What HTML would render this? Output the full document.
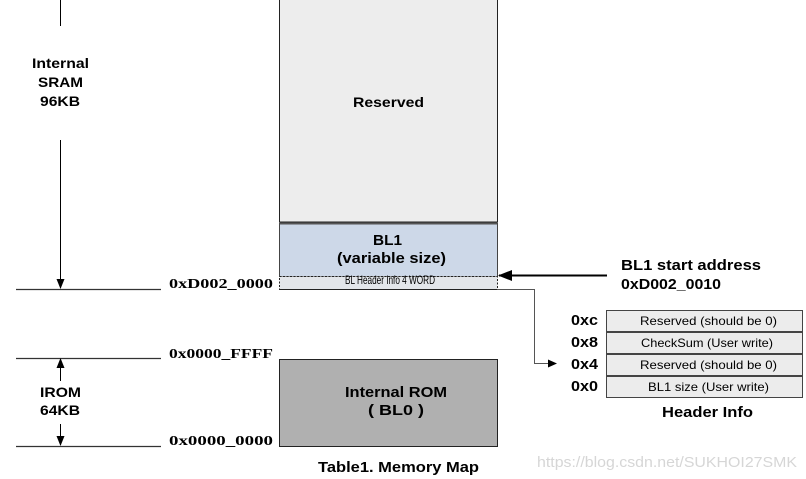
<!DOCTYPE html>
<html><head><meta charset="utf-8"><style>
html,body{margin:0;padding:0;background:#fff;}
svg{display:block;}
.s{font-family:"Liberation Sans",sans-serif;font-weight:bold;}
.m{font-family:"Liberation Serif",serif;font-weight:bold;font-size:14px;}
.n{font-family:"Liberation Sans",sans-serif;font-size:12px;}
</style></head><body>
<svg width="806" height="479" viewBox="0 0 806 479" xmlns="http://www.w3.org/2000/svg">
<defs>
<marker id="a" markerWidth="10" markerHeight="8" refX="9" refY="4" orient="auto" markerUnits="userSpaceOnUse"><path d="M0,0 L10,4 L0,8 z" fill="#000"/></marker>
</defs>
<line x1="16" y1="289.5" x2="161" y2="289.5" stroke="#333" stroke-width="1.2"/>
<line x1="16" y1="358.5" x2="161" y2="358.5" stroke="#333" stroke-width="1.2"/>
<line x1="16" y1="446.5" x2="161" y2="446.5" stroke="#333" stroke-width="1.2"/>
<line x1="60.5" y1="0" x2="60.5" y2="26" stroke="#000" stroke-width="1"/>
<line x1="60.5" y1="140" x2="60.5" y2="288" stroke="#000" stroke-width="1" marker-end="url(#a)"/>
<line x1="60.5" y1="381" x2="60.5" y2="359" stroke="#000" stroke-width="1" marker-end="url(#a)"/>
<line x1="60.5" y1="424" x2="60.5" y2="445" stroke="#000" stroke-width="1" marker-end="url(#a)"/>
<text class="s" font-size="14" x="32" y="68" textLength="57" lengthAdjust="spacingAndGlyphs">Internal</text>
<text class="s" font-size="14" x="38" y="87" textLength="45" lengthAdjust="spacingAndGlyphs">SRAM</text>
<text class="s" font-size="14" x="40" y="106" textLength="40" lengthAdjust="spacingAndGlyphs">96KB</text>
<text class="s" font-size="14" x="40" y="397" textLength="41" lengthAdjust="spacingAndGlyphs">IROM</text>
<text class="s" font-size="14" x="40" y="415" textLength="40" lengthAdjust="spacingAndGlyphs">64KB</text>
<text class="m" x="169" y="288" textLength="104" lengthAdjust="spacingAndGlyphs">0xD002_0000</text>
<text class="m" x="169" y="358" textLength="104" lengthAdjust="spacingAndGlyphs">0x0000_FFFF</text>
<text class="m" x="169" y="445" textLength="104" lengthAdjust="spacingAndGlyphs">0x0000_0000</text>
<rect x="279.5" y="-2" width="218" height="224" fill="#ededed" stroke="#222" stroke-width="1"/>
<text class="s" font-size="14" x="353" y="107" textLength="71" lengthAdjust="spacingAndGlyphs">Reserved</text>
<rect x="279.5" y="223.5" width="218" height="53" fill="#cdd8e8" stroke="#444" stroke-width="1"/>
<line x1="279.5" y1="223.5" x2="497.5" y2="223.5" stroke="#555" stroke-width="2"/>
<text class="s" font-size="15" x="373" y="245" textLength="29" lengthAdjust="spacingAndGlyphs">BL1</text>
<text class="s" font-size="15" x="337" y="263" textLength="109" lengthAdjust="spacingAndGlyphs">(variable size)</text>
<rect x="279.5" y="276.5" width="218" height="13" fill="#e3e6ea" stroke="#222" stroke-width="1" stroke-dasharray="2,1.5"/>
<line x1="279.5" y1="289.5" x2="497.5" y2="289.5" stroke="#222" stroke-width="1"/>
<text class="n" font-size="8.5" x="345" y="284" textLength="90" lengthAdjust="spacingAndGlyphs">BL Header Info 4 WORD</text>
<rect x="279.5" y="359.5" width="218" height="87" fill="#b0b0b0" stroke="#222" stroke-width="1"/>
<text class="s" font-size="15" x="345" y="397" textLength="102" lengthAdjust="spacingAndGlyphs">Internal ROM</text>
<text class="s" font-size="15" x="368" y="415" textLength="56" lengthAdjust="spacingAndGlyphs">( BL0 )</text>
<text class="s" font-size="15" x="318" y="472" textLength="161" lengthAdjust="spacingAndGlyphs">Table1. Memory Map</text>
<line x1="607" y1="275.5" x2="499" y2="275.5" stroke="#000" stroke-width="2"/>
<path d="M498,275.5 L512,270 L512,281 z" fill="#000"/>
<text class="s" font-size="15" x="621" y="270" textLength="140" lengthAdjust="spacingAndGlyphs">BL1 start address</text>
<text class="s" font-size="15" x="621" y="289" textLength="100" lengthAdjust="spacingAndGlyphs">0xD002_0010</text>
<polyline points="497,289.5 534.5,289.5 534.5,363.5 550,363.5" fill="none" stroke="#555" stroke-width="1"/>
<path d="M557,363.5 L548,359.5 L548,367.5 z" fill="#000"/>
<g stroke="#444" stroke-width="1" fill="#ececec">
<rect x="606.5" y="310.5" width="196" height="21"/>
<rect x="606.5" y="332.5" width="196" height="21"/>
<rect x="606.5" y="354.5" width="196" height="21"/>
<rect x="606.5" y="376.5" width="196" height="21"/>
</g>
<text class="n" x="640" y="325" textLength="137" lengthAdjust="spacingAndGlyphs">Reserved (should be 0)</text>
<text class="n" x="641" y="347" textLength="132" lengthAdjust="spacingAndGlyphs">CheckSum (User write)</text>
<text class="n" x="640" y="369" textLength="137" lengthAdjust="spacingAndGlyphs">Reserved (should be 0)</text>
<text class="n" x="648" y="391" textLength="121" lengthAdjust="spacingAndGlyphs">BL1 size (User write)</text>
<text class="s" font-size="15" x="571" y="325" textLength="27" lengthAdjust="spacingAndGlyphs">0xc</text>
<text class="s" font-size="15" x="571" y="347" textLength="27" lengthAdjust="spacingAndGlyphs">0x8</text>
<text class="s" font-size="15" x="571" y="369" textLength="27" lengthAdjust="spacingAndGlyphs">0x4</text>
<text class="s" font-size="15" x="571" y="391" textLength="27" lengthAdjust="spacingAndGlyphs">0x0</text>
<text class="s" font-size="15" x="662" y="417" textLength="91" lengthAdjust="spacingAndGlyphs">Header Info</text>
<text font-family="Liberation Sans,sans-serif" font-size="15" fill="#d6d6d6" x="537" y="467" textLength="260" lengthAdjust="spacingAndGlyphs">https://blog.csdn.net/SUKHOI27SMK</text>
</svg>
</body></html>
